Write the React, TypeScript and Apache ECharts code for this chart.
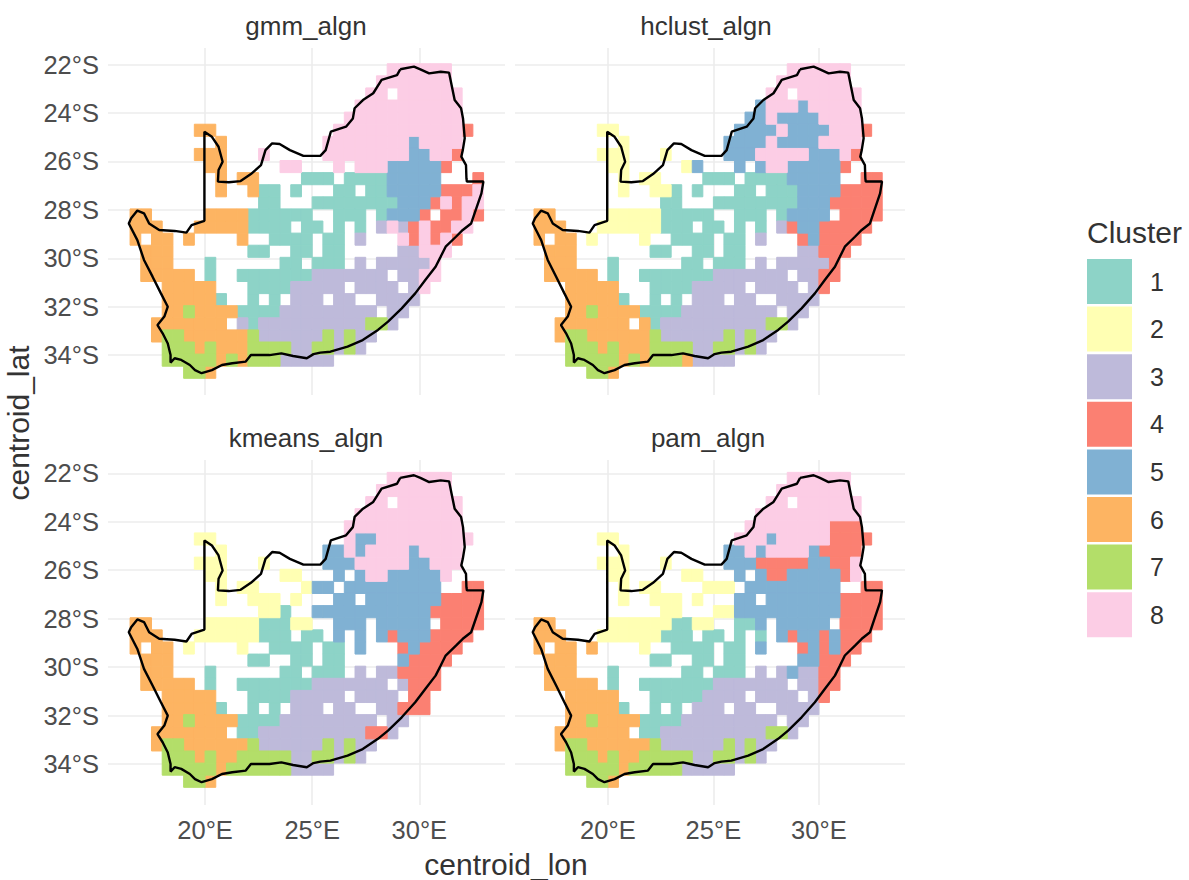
import React, { useEffect, useRef } from "react";
import * as echarts from "echarts";

const clusterColors = ["#8DD3C7", "#FFFFB3", "#BEBADA", "#FB8072", "#80B1D3", "#FDB462", "#B3DE69", "#FCCDE5"];
const clusterNames = ["1", "2", "3", "4", "5", "6", "7", "8"];
const lonTicks = [20, 25, 30];
const latTicks = [-22, -24, -26, -28, -30, -32, -34];

// Each row is one 0.5 degree band of latitude, north to south. "a-b:k" = columns a..b hold cluster k.
const gmmRows = [
  "24-29:8", "23-29:8", "22-23:8 25-30:8", "21-30:8", "20-30:8",
  "6-7:6 19-30:8 31:4", "8:6 18-25:8 26:5 27-30:8", "6-8:6 12:8 18-25:8 26-27:5 28-29:8 30:4",
  "7-8:6 14-15:8 19:8 21-23:8 24-28:5 29:4", "8:6 10-11:6 16-18:1 20-23:1 24-28:5 32:4",
  "8:6 11:6 12-13:1 15:1 19-20:1 22-23:1 24-28:5 29-31:4 32:8",
  "12-13:1 17-24:1 25-27:5 28:4 29:8 30:4 31-32:8",
  "0-1:6 7-10:6 11-16:1 19-21:1 23:1 24-26:5 27:4 29-30:4 31:8 32:4",
  "0-2:6 6-10:6 11-14:1 16-17:1 19:1 21:1 23:3 24:8 25:3 26:4 27:8 28-29:4 30-31:8",
  "0:6 2-3:6 5:6 10:6 13-16:1 18-19:1 21:3 25:8 26:4 27:8 28:4 29:8 30:4",
  "1-3:6 11-12:1 15-16:1 18-19:1 25-26:3 27-29:8",
  "1-3:6 7:1 14-15:1 17-19:1 21:3 23-27:3 28:8",
  "1-5:6 7:1 10-16:1 17-23:3 25-26:3 27-28:8",
  "3-7:6 11-14:1 15-19:3 21-24:3 26:3 27:8",
  "3-7:6 8:1 11:1 13:1 15-17:3 19-20:3 23-26:3",
  "3-4:6 5:7 6-9:6 10-13:1 14-22:3 24-25:3",
  "2-8:6 10:3 11:1 12-21:3 22-23:7 24:3",
  "2:6 3-4:7 5-10:6 11:7 12-17:3 18:7 19:3 20:7 21-22:3",
  "3-5:7 6:6 7:7 8-10:6 11-14:7 15-16:3 17-18:7 19:3 20:7 21:3",
  "3-7:7 8:6 9:7 10:6 11-13:7 14-18:3",
  "5-6:7 7:6",
];

const hclustRows = [
  "24-29:8", "23-29:8", "22-23:8 25-30:8", "21:5 22-24:8 25:5 26-30:8", "20-21:5 22:8 23-26:5 27-30:8",
  "6-7:2 19-22:5 23:8 24-27:5 28-30:8 31:4", "8:2 18-21:5 22:8 23-26:5 27-30:8",
  "6-8:2 12:2 18-20:5 21-25:8 26-28:5 29:8 30:4",
  "7-8:2 14:2 15:5 19:5 21:5 22-23:8 24-28:5 29:4",
  "8:2 10-11:2 16-18:1 20-23:1 24-28:5 31-32:4",
  "8:2 11-12:2 13:1 15:1 19-20:1 22-24:1 25-28:5 29-32:4",
  "12-13:1 17-24:1 25-27:5 28-32:4",
  "0-1:6 7-11:2 12-16:1 19-21:1 23:1 24-27:5 29-32:4",
  "0-2:6 6-11:2 12-14:1 16-17:1 19:1 21:1 23:3 24:4 25-26:5 27-31:4",
  "0:6 2-3:6 5:2 10:2 13-16:1 18-19:1 21:3 25:4 26:5 27-30:4",
  "1-3:6 11-12:1 15-16:1 18-19:1 25-26:3 27-29:4",
  "1-3:6 7:1 14-15:1 17-19:1 21:3 23-27:3 28:4",
  "1-5:6 7:1 10-16:1 17-23:3 25-26:3 27-28:4",
  "3-7:6 11-14:1 15-19:3 21-24:3 26:3 27:4",
  "3-7:6 8:1 11:1 13:1 15-17:3 19-20:3 23-26:3",
  "3-4:6 5:7 6-9:6 10-13:1 14-22:3 24-25:3",
  "2-8:6 10:6 11:1 12-21:3 22-23:7 24:3",
  "2:6 3-4:7 5-10:6 11:7 12-17:3 18:7 19:3 20:7 21-22:3",
  "3-5:7 6:6 7:7 8-10:6 11-14:7 15-16:3 17-18:7 19:3 20:7 21:3",
  "3-7:7 8:6 9:7 10:6 11-13:7 14:6 15-18:3",
  "5-6:7 7:6",
];

const kmeansRows = [
  "24-29:8", "23-29:8", "22-23:8 25-30:8", "21-30:8", "20-30:8",
  "6-7:2 20:8 21-22:5 23-31:8", "8:2 18-19:5 20:8 21:5 22-25:8 26:5 27-30:8",
  "6-8:2 12:2 18-20:5 21-25:8 26-27:5 28-30:8",
  "7-8:2 14-15:2 19:5 21:5 22-23:8 24-28:5 29:8",
  "8:2 10-11:2 16:2 17-18:5 20-28:5 31-32:4",
  "8:2 11-13:2 15:2 19-20:5 22-28:5 29-32:4",
  "12-13:2 14:1 17-27:5 28-32:4",
  "0-1:6 7-11:2 12-14:1 15-16:2 19-21:5 23-27:5 29-32:4",
  "0-2:6 6-11:2 12-14:1 16-17:1 19:5 21:5 23:5 24:4 25-27:5 28-31:4",
  "0:6 2-3:6 5:2 10:2 13-16:1 18-19:1 21:5 25:4 26:5 27-30:4",
  "1-3:6 11-12:1 15-16:1 18-19:1 25:5 26-29:4",
  "1-3:6 7:1 14-15:1 17-19:1 21:3 23-24:3 25-28:4",
  "1-5:6 7:1 10-16:1 17-23:3 25:3 26-28:4",
  "3-7:6 11-14:1 15-19:3 21-24:3 26-27:4",
  "3-7:6 8:1 11:1 13:1 15-17:3 19-20:3 23-24:3 25-27:4",
  "3-4:6 5:7 6-9:6 10-13:1 14-22:3 24-25:3",
  "2-8:6 10-11:1 12-21:3 22-23:4 24:3",
  "2:6 3-4:7 5-10:6 11:7 12-17:3 18:7 19:3 20:7 21-22:3",
  "3-5:7 6:6 7:7 8-9:6 10-14:7 15-16:3 17-18:7 19:3 20:7 21:3",
  "3-7:7 8:6 9-14:7 15-18:3",
  "5-6:7 7:6",
];

const pamRows = [
  "24-29:8", "23-29:8", "22-23:8 25-30:8", "21-30:8", "20-27:8 28-30:4",
  "6-7:2 19-21:8 22:5 23-27:8 28-31:4", "8:2 18-19:5 20:8 21:5 22-25:8 26:5 27-30:4",
  "6-8:2 12:2 18-20:5 21-25:4 26-27:5 28-29:4 30:8",
  "7-8:2 14-15:2 19:5 21:5 22-23:4 24-28:5 29:4 30:8",
  "8:2 10-11:2 16-18:2 20-28:5 31-32:4",
  "8:2 11-13:2 15:2 19-20:5 22-28:5 29-32:4",
  "12-13:2 17-18:2 19-28:5 29-32:4",
  "0-1:6 7-12:2 13-14:1 15-16:2 19-20:1 21:5 23-27:5 29-32:4",
  "0-2:6 6-11:2 12-14:1 16-17:1 19:1 21:1 23:5 24:4 25-26:5 27:4 28:5 29-31:4",
  "0:6 2-3:6 5:6 10:2 13-16:1 18-19:1 21:5 25:4 26:5 27:4 28:5 29-30:4",
  "1-3:6 11-12:1 15-16:1 18-19:1 25-26:5 27-29:4",
  "1-3:6 7:1 14-15:1 17-19:1 21:3 23:3 24:5 25-26:3 27-28:4",
  "1-5:6 7:1 10-16:1 17-23:3 25-26:3 27-28:4",
  "3-7:6 11-15:1 16-19:3 21-24:3 26:3 27:4",
  "3-7:6 8:1 11:1 13:1 15-17:3 19-20:3 23-26:3",
  "3-4:6 5:7 6-9:6 10-13:1 14-22:3 24-25:3",
  "2-8:6 10-11:1 12-21:3 22-23:7 24:3",
  "2:6 3-4:7 5-10:6 11:7 12-17:3 18:7 19:3 20:7 21-22:3",
  "3-5:7 6:6 7:7 8-9:6 10-14:7 15-16:3 17-18:7 19:3 20:7 21:3",
  "3-7:7 8:6 9-13:7 14-18:3",
  "5-6:7 7:6",
];

// South African border, [longitude E, latitude S].
const borderLon = [29.11,29.75,30.05,30.46,31.0,31.39,31.49,31.65,31.95,32.04,32.12,32.03,31.96,32.18,32.2,32.22,32.99,32.9,32.66,32.42,32.03,31.71,31.23,31.0,30.76,30.28,29.81,29.18,28.54,28.07,27.36,26.65,25.85,25.38,25.06,24.75,24.11,23.56,23.01,22.14,21.9,21.27,20.79,20.32,19.84,19.53,19.29,18.89,18.58,18.39,18.39,18.26,18.02,17.78,18.1,18.26,17.94,17.55,17.15,16.84,16.44,16.55,16.84,17.15,17.39,17.86,18.58,19.13,19.37,19.97,19.97,20.32,20.63,20.82,20.63,20.6,21.11,21.66,22.14,22.61,22.82,23.13,23.48,23.96,24.59,25.38,25.63,25.87,26.58,26.9,26.98,27.37,27.85,28.24,28.96,29.11];
const borderLat = [22.19,22.08,22.19,22.36,22.29,22.33,22.77,23.46,23.8,24.22,25.04,25.53,25.8,26.15,26.7,26.83,26.83,27.32,27.94,28.56,28.83,29.11,29.52,29.93,30.35,30.9,31.45,32.07,32.62,32.96,33.38,33.65,33.86,33.9,33.96,34.13,34.04,33.93,34.0,34.0,34.27,34.34,34.41,34.62,34.75,34.62,34.41,34.2,34.13,34.31,34.0,33.52,33.1,32.76,32.41,32.0,31.45,30.76,30.07,29.25,28.56,28.35,28.03,28.14,28.56,28.83,28.87,28.94,28.63,28.45,24.77,24.98,25.39,26.01,26.35,26.83,26.86,26.81,26.52,26.15,25.53,25.25,25.28,25.53,25.77,25.77,25.53,24.77,24.56,24.22,23.8,23.46,23.18,22.63,22.43,22.19];

const FIRST_LON = 16.5;
const FIRST_LAT = 21.96;
const CELL = 0.5;
const FONT = '"Liberation Sans", Arial, sans-serif';

const panels = [
  { title: "gmm_algn", titleX: 301, rows: gmmRows, left: 108, top: 48, width: 397, height: 347, lonMin: 15.47, lonMax: 34.0, latTop: 21.31, latBottom: 35.65, showLon: false, showLat: true },
  { title: "hclust_algn", titleX: 701, rows: hclustRows, left: 515, top: 48, width: 390, height: 347, lonMin: 15.6, lonMax: 34.08, latTop: 21.31, latBottom: 35.65, showLon: false, showLat: false },
  { title: "kmeans_algn", titleX: 301, rows: kmeansRows, left: 108, top: 460, width: 397, height: 345, lonMin: 15.47, lonMax: 34.0, latTop: 21.45, latBottom: 35.69, showLon: true, showLat: true },
  { title: "pam_algn", titleX: 703, rows: pamRows, left: 515, top: 460, width: 390, height: 345, lonMin: 15.6, lonMax: 34.08, latTop: 21.45, latBottom: 35.69, showLon: true, showLat: false },
];

function cellsFor(rows: string[], cluster: number): number[][] {
  const out: number[][] = [];
  rows.forEach((row, r) => {
    row.split(" ").forEach((tok) => {
      const [span, k] = tok.split(":");
      if (Number(k) !== cluster) return;
      const [a, b] = span.split("-").map(Number);
      for (let c = a; c <= (b === undefined ? a : b); c++) {
        out.push([FIRST_LON + c * CELL, -(FIRST_LAT + r * CELL)]);
      }
    });
  });
  return out;
}

const renderCell = (_p: any, api: any) => {
  const lon = api.value(0);
  const lat = api.value(1);
  const a = api.coord([lon, lat]);
  const b = api.coord([lon + CELL, lat - CELL]);
  const color = api.visual("color");
  return {
    type: "rect",
    shape: { x: a[0], y: a[1], width: b[0] - a[0], height: b[1] - a[1] },
    style: { fill: color, stroke: color, lineWidth: 1 },
  };
};

export default function App() {
  const ref = useRef<HTMLDivElement>(null);
  useEffect(() => {
    const chart = echarts.init(ref.current!, undefined, { renderer: "svg" });
    const tickColor = "#4d4d4d";
    const gridLine = { show: true, lineStyle: { color: "#ededed", width: 1.6 } };
    const series: any[] = [];
    panels.forEach((p, i) => {
      clusterNames.forEach((name, k) => {
        series.push({
          type: "custom",
          name,
          xAxisIndex: i,
          yAxisIndex: i,
          coordinateSystem: "cartesian2d",
          renderItem: renderCell,
          encode: { x: 0, y: 1 },
          itemStyle: { color: clusterColors[k] },
          data: cellsFor(p.rows, k + 1),
          silent: true,
          clip: false,
        });
      });
      series.push({
        type: "line",
        xAxisIndex: i,
        yAxisIndex: i,
        showSymbol: false,
        symbol: "none",
        silent: true,
        z: 5,
        lineStyle: { color: "#000000", width: 2.4 },
        data: borderLon.map((lon, j) => [lon, -borderLat[j]]),
      });
    });
    chart.setOption({
      animation: false,
      backgroundColor: "#ffffff",
      title: panels.map((p) => ({
        text: p.title,
        left: p.titleX,
        top: p.top - 40,
        textAlign: "center",
        textStyle: { fontFamily: FONT, fontSize: 26, fontWeight: "normal", color: "#333333" },
      })),
      grid: panels.map((p) => ({ left: p.left, top: p.top, width: p.width, height: p.height })),
      xAxis: panels.map((p, i) => ({
        type: "value",
        gridIndex: i,
        min: p.lonMin,
        max: p.lonMax,
        axisLine: { show: false },
        axisTick: { show: false, customValues: lonTicks },
        splitLine: gridLine,
        axisLabel: {
          show: p.showLon,
          customValues: lonTicks,
          margin: 12,
          fontFamily: FONT,
          fontSize: 25.5,
          color: tickColor,
          formatter: (v: number) => `${v}°E`,
        },
      })),
      yAxis: panels.map((p, i) => ({
        type: "value",
        gridIndex: i,
        min: -p.latBottom,
        max: -p.latTop,
        axisLine: { show: false },
        axisTick: { show: false, customValues: latTicks },
        splitLine: gridLine,
        axisLabel: {
          show: p.showLat,
          customValues: latTicks,
          margin: 9,
          fontFamily: FONT,
          fontSize: 25.5,
          color: tickColor,
          padding: [5, 0, 0, 0],
          formatter: (v: number) => `${Math.abs(v)}°S`,
        },
      })),
      legend: {
        data: clusterNames,
        orient: "vertical",
        left: 1082,
        top: 254,
        icon: "rect",
        itemWidth: 45,
        itemHeight: 45,
        itemGap: 2.6,
        selectedMode: false,
        textStyle: { fontFamily: FONT, fontSize: 25, color: "#333333", padding: [0, 0, 0, 13] },
      },
      graphic: [
        { type: "text", x: 1087, y: 232, style: { text: "Cluster", fontFamily: FONT, fontSize: 30, fill: "#333333", verticalAlign: "middle" } },
        { type: "text", x: 506, y: 864, style: { text: "centroid_lon", fontFamily: FONT, fontSize: 30, fill: "#333333", align: "center", verticalAlign: "middle" } },
        { type: "text", x: 18, y: 423, rotation: Math.PI / 2, style: { text: "centroid_lat", fontFamily: FONT, fontSize: 30, fill: "#333333", align: "center", verticalAlign: "middle" } },
      ],
      series,
    });
    return () => chart.dispose();
  }, []);
  return <div ref={ref} style={{ position: "absolute", left: 0, top: 0, width: 1189, height: 880 }} />;
}
